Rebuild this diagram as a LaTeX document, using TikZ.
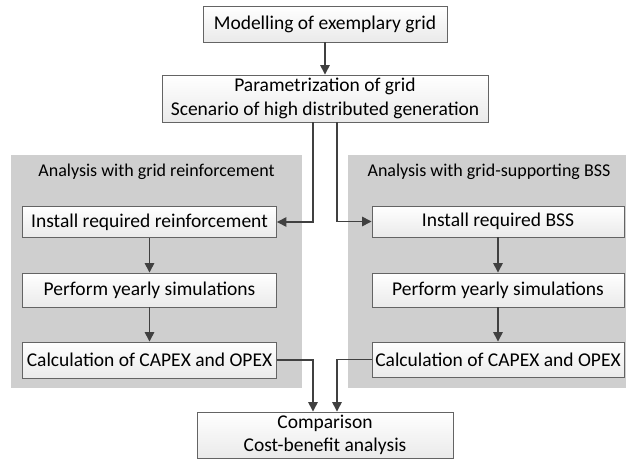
\documentclass[tikz,border=0pt]{standalone}
\usepackage{fontspec}
\setmainfont{Carlito}
\usetikzlibrary{arrows.meta}
\definecolor{panelgray}{RGB}{207,207,207}
\definecolor{boxborder}{RGB}{100,100,100}
\definecolor{boxbottom}{RGB}{234,234,234}
\definecolor{arrowcol}{RGB}{64,64,64}
\begin{document}
\begin{tikzpicture}[x=1pt,y=-1pt,
  stepbox/.style={draw=boxborder, line width=0.9pt, top color=white, bottom color=boxbottom,
    inner sep=0pt, align=center, font=\fontsize{19.5}{23.5}\selectfont},
  panel/.style={fill=panelgray, draw=none},
  paneltitle/.style={inner sep=0pt, font=\fontsize{18}{21}\selectfont},
  arr/.style={draw=arrowcol, line width=1.4pt, -{Triangle[length=9.5pt,width=9.5pt]}},
  conn/.style={draw=arrowcol, line width=1.4pt}]
\useasboundingbox (0,0) rectangle (627,460);
\fill[white] (0,0) rectangle (627,460);
% panels
\path[panel] (11,155) rectangle (302,388);
\path[panel] (348,155) rectangle (626,388);
\node[paneltitle] (tl) at (156.5,172) {Analysis with grid reinforcement};
\node[paneltitle] (tr) at (489,172) {Analysis with grid-supporting BSS};
% top boxes
\node[stepbox, minimum width=244, minimum height=36] (m1) at (325,24) {Modelling of exemplary grid};
\node[stepbox, minimum width=326, minimum height=47] (m2) at (325,98.5) {Parametrization of grid\\Scenario of high distributed generation};
% left column
\node[stepbox, minimum width=254, minimum height=31] (il) at (149.5,222) {Install required reinforcement};
\node[stepbox, minimum width=254, minimum height=34] (pl) at (149.5,290) {Perform yearly simulations};
\node[stepbox, minimum width=254, minimum height=36] (cl) at (149.5,360) {Calculation of CAPEX and OPEX};
% right column
\node[stepbox, minimum width=252, minimum height=31] (ir) at (498,221.5) {Install required BSS};
\node[stepbox, minimum width=252, minimum height=34] (pr) at (498,290) {Perform yearly simulations};
\node[stepbox, minimum width=252, minimum height=35] (cr) at (498,359.5) {Calculation of CAPEX and OPEX};
% comparison
\node[stepbox, minimum width=256, minimum height=46] (cmp) at (325,435) {Comparison\\Cost-benefit analysis};
% helper columns
\coordinate (xl) at (313,0);
\coordinate (xr) at (337,0);
% connectors
\draw[arr] (m1) -- (m2);
\draw[arr] (xl |- m2.south) |- (il.east);
\draw[arr] (xr |- m2.south) |- (ir.west);
\draw[arr] (il) -- (pl);
\draw[arr] (pl) -- (cl);
\draw[arr] (ir) -- (pr);
\draw[arr] (pr) -- (cr);
\draw[arr] (cl.east) -| (xl |- cmp.north);
\draw[arr] (cr.west) -| (xr |- cmp.north);
\end{tikzpicture}
\end{document}
